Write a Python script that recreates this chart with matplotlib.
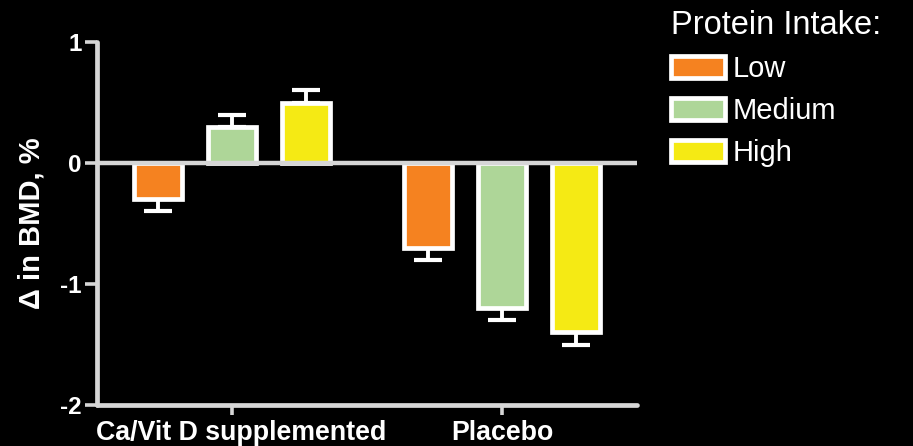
import matplotlib
matplotlib.use("Agg")
import matplotlib.pyplot as plt
import matplotlib.transforms as mtransforms
import numpy as np
from matplotlib.patches import Patch

plt.rcParams['font.family'] = ['Liberation Sans', 'DejaVu Sans']

groups = ["Ca/Vit D supplemented", "Placebo"]
levels = ["Low", "Medium", "High"]
colors = ["#F58220", "#AED698", "#F5EA14"]
# mean change in BMD (%) per protein intake level, for each group
values = {
    "Low":    [-0.3, -0.7],
    "Medium": [0.3, -1.2],
    "High":   [0.5, -1.4],
}
errors = {
    "Low":    [0.1, 0.1],
    "Medium": [0.1, 0.1],
    "High":   [0.1, 0.1],
}
yticks = [-2, -1, 0, 1]

fig = plt.figure(figsize=(9.13, 4.46), dpi=100, facecolor="black")
ax = fig.add_axes([0.1062, 0.0919, 0.5915, 0.8139], facecolor="black")

x = np.arange(len(groups))
spacing = 0.274
width = 0.176
grey = "#D6D6D6"

for i, lvl in enumerate(levels):
    xs = x + (i - 1) * spacing
    vals = np.array(values[lvl])
    errs = np.array(errors[lvl])
    ax.bar(xs, vals, width=width, color=colors[i], edgecolor="white",
           linewidth=3.4, zorder=2)
    lower = np.where(vals < 0, errs, 0)
    upper = np.where(vals >= 0, errs, 0)
    ax.errorbar(xs, vals, yerr=[lower, upper], fmt="none", ecolor="white",
                elinewidth=2.8, capsize=10, capthick=3.0, zorder=1)

ax.axhline(0, color=grey, linewidth=3.2, zorder=3, solid_capstyle="round")

ax.set_xlim(-0.5, 1.5)
ax.set_ylim(-2, 1)
ax.set_yticks(yticks)
ax.set_yticklabels([str(t) for t in yticks])
ax.set_xticks(x)
ax.set_xticklabels(groups)

for side in ["top", "right"]:
    ax.spines[side].set_visible(False)
for side in ["left", "bottom"]:
    ax.spines[side].set_color(grey)
    ax.spines[side].set_linewidth(3.4)
    ax.spines[side].set_capstyle("round")

ax.tick_params(axis="y", colors=grey, length=9, width=2.6, pad=2,
               labelcolor="white", labelsize=17.5)
ax.tick_params(axis="x", colors=grey, length=7, width=2.6, pad=4,
               labelcolor="white", labelsize=19.3)
for lab in ax.get_xticklabels() + ax.get_yticklabels():
    lab.set_fontweight("bold")

# nudge the long first group label slightly to the right
first = ax.get_xticklabels()[0]
first.set_transform(first.get_transform() +
                    mtransforms.ScaledTranslation(0.09, 0, fig.dpi_scale_trans))

ax.set_ylabel("\u0394 in BMD, %", color="white", fontsize=21, fontweight="bold")
ax.yaxis.set_label_coords(-0.095, 0.5)

handles = [Patch(facecolor=c, edgecolor="white", linewidth=3.4, label=l)
           for c, l in zip(colors, levels)]
leg = fig.legend(handles=handles, loc="upper left", bbox_to_anchor=(0.729, 0.99),
                 frameon=False, fontsize=21, title="Protein Intake:",
                 title_fontsize=23.5, handlelength=1.85, handleheight=0.78,
                 handletextpad=0.25, labelspacing=0.48, borderaxespad=0.0,
                 borderpad=0.2)
leg._legend_box.align = "left"
leg.get_title().set_color("white")
for t in leg.get_texts():
    t.set_color("white")

fig.savefig("out.png", dpi=100, facecolor="black")
